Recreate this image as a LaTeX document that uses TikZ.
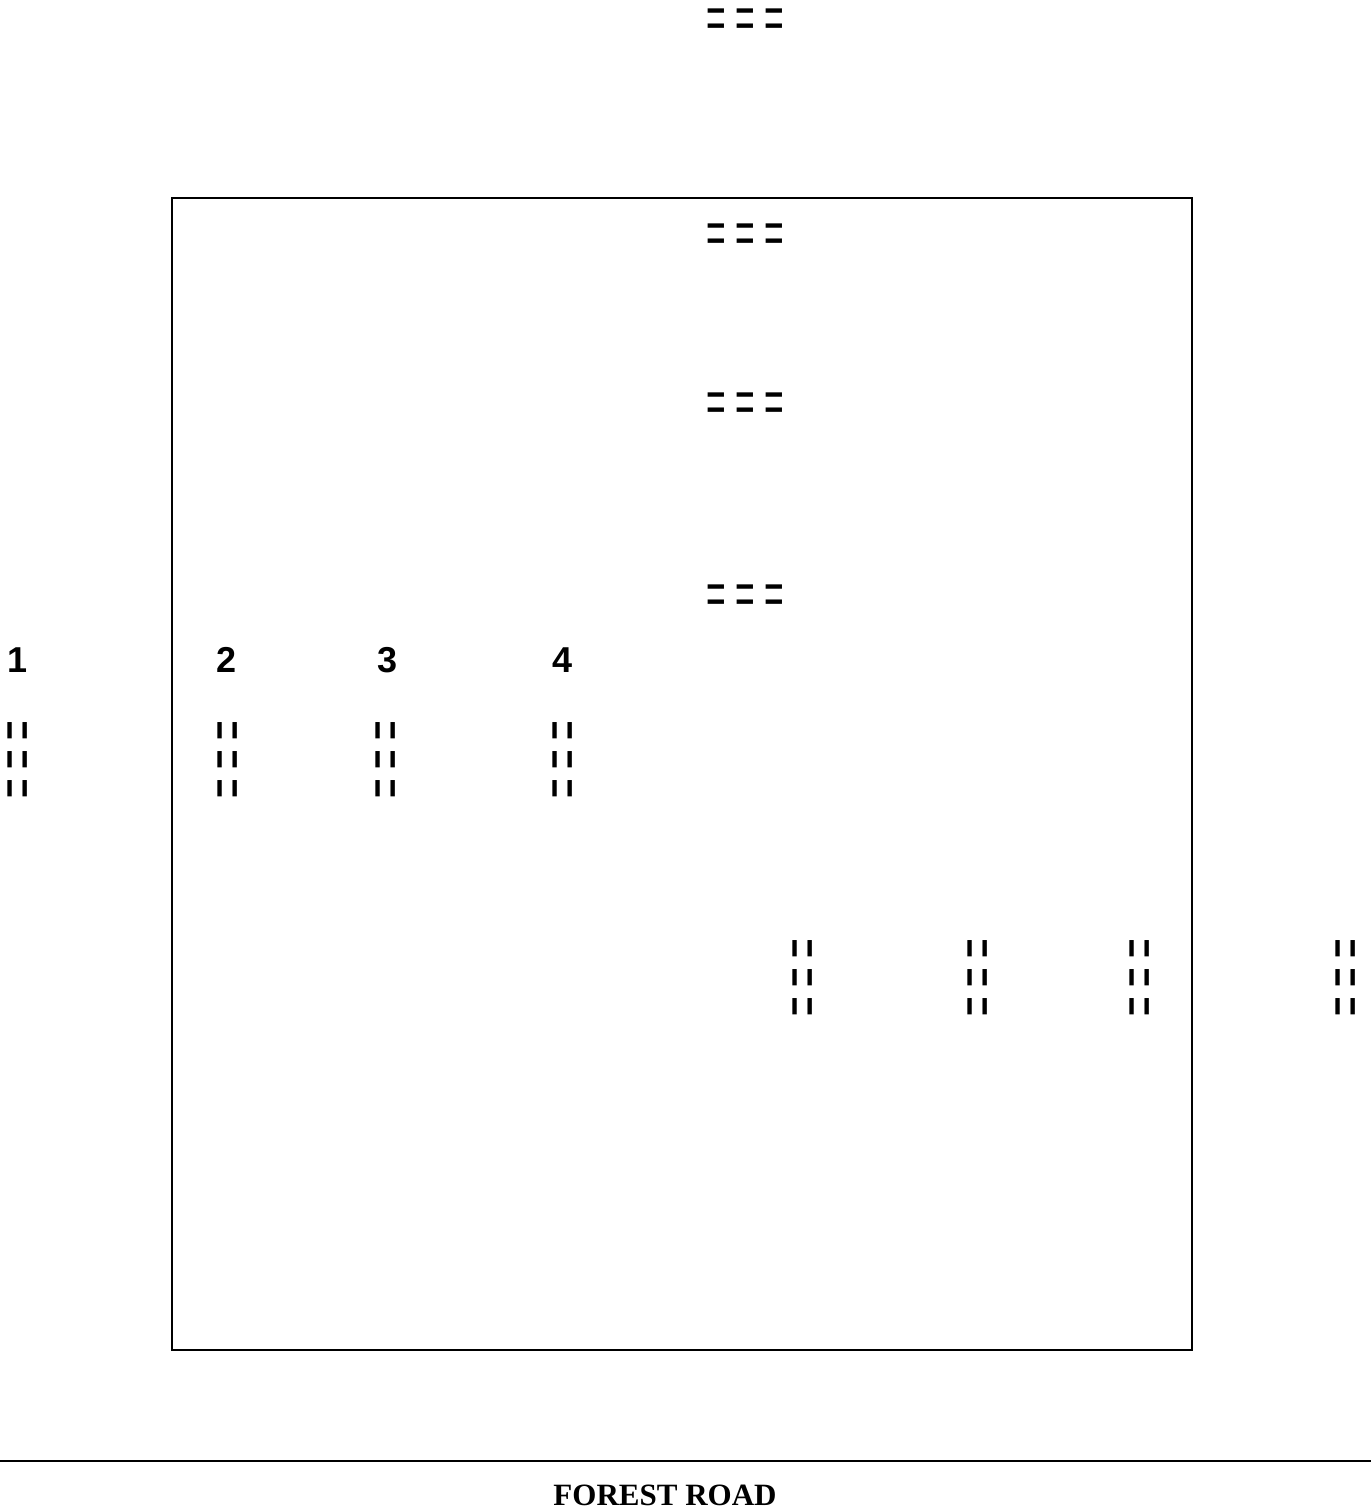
\documentclass[tikz,border=0pt]{standalone}
\usepackage{fontspec}
\setmainfont{Liberation Serif}
\setsansfont{Liberation Sans}
\begin{document}
\begin{tikzpicture}[x=0.5pt,y=-0.5pt,
  wall/.style={draw=black,line width=1pt},
  vent/.style={font=\sffamily\fontsize{16.8}{16.8}\selectfont,inner sep=0pt,yscale=1.8},
  ventv/.style={font=\sffamily\fontsize{16.8}{16.8}\selectfont,inner sep=0pt,rotate=90,yscale=1.8},
  num/.style={font=\sffamily\bfseries\fontsize{18}{18}\selectfont,inner sep=0pt},
  road/.style={font=\rmfamily\bfseries\fontsize{15.5}{15.5}\selectfont,inner sep=0pt}]
\useasboundingbox (0,0) rectangle (1371,1512);
\fill[white] (0,0) rectangle (1371,1512);
% building outline
\node[wall,minimum width=510pt,minimum height=576pt,inner sep=0pt,anchor=north west] (house) at (171,197) {};
% road
\coordinate (rl) at (0,1461);
\coordinate (rr) at (1371,1461);
\draw[wall] (rl) -- (rr);
\node[road] (roadname) at (665,1495) {FOREST ROAD};
% horizontal vents
\node[vent] (v0) at (745,23.4) {= = =};
\node[vent] (v1) at (745,238.9) {= = =};
\node[vent] (v2) at (745,407.7) {= = =};
\node[vent] (v3) at (745,599.4) {= = =};
% numbers
\node[num] (n1) at (17.5,660) {1};
\node[num] (n2) at (226.5,660) {2};
\node[num] (n3) at (387.5,660) {3};
\node[num] (n4) at (562.5,660) {4};
% vertical vents under numbers
\node[ventv] (a1) at (22.9,759.5) {= = =};
\node[ventv] (a2) at (232.9,759.5) {= = =};
\node[ventv] (a3) at (390.9,759.5) {= = =};
\node[ventv] (a4) at (567.9,759.5) {= = =};
% lower vertical vents
\node[ventv] (b1) at (807.9,977.5) {= = =};
\node[ventv] (b2) at (982.9,977.5) {= = =};
\node[ventv] (b3) at (1144.4,977.5) {= = =};
\node[ventv] (b4) at (1350.9,977.5) {= = =};
\end{tikzpicture}
\end{document}
